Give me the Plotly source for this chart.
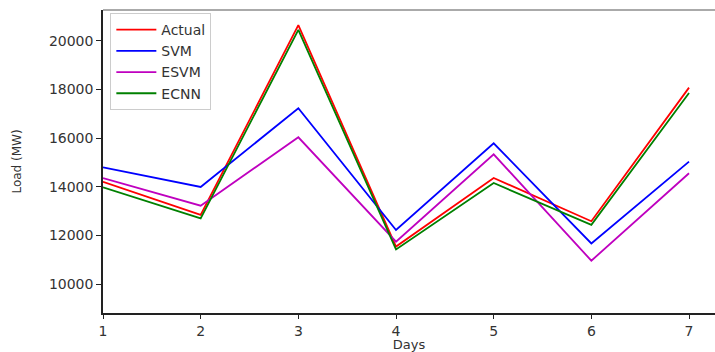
import plotly.graph_objects as go

days = [1, 2, 3, 4, 5, 6, 7]
actual = [14200, 12840, 20640, 11540, 14360, 12580, 18070]
svm = [14790, 13990, 17220, 12220, 15780, 11670, 15030]
esvm = [14350, 13220, 16030, 11740, 15330, 10960, 14550]
ecnn = [13970, 12700, 20440, 11420, 14150, 12430, 17850]
yticks = [10000, 12000, 14000, 16000, 18000, 20000]

series = [("Actual", actual, "#ff0000"), ("SVM", svm, "#0000ff"),
          ("ESVM", esvm, "#bf00bf"), ("ECNN", ecnn, "#008000")]

fig = go.Figure()
for name, vals, col in series:
    fig.add_trace(go.Scatter(x=days, y=vals, mode="lines", name=name,
                             line=dict(color=col, width=1.8)))

font = "DejaVu Sans"
fig.update_layout(
    width=715, height=352,
    margin=dict(l=103, r=0, t=10, b=39),
    plot_bgcolor="white", paper_bgcolor="white",
    font=dict(family=font, size=14, color="#333333"),
    showlegend=True,
    legend=dict(x=0.012, y=0.99, xanchor="left", yanchor="top",
                bgcolor="rgba(255,255,255,0.9)", bordercolor="#cccccc", borderwidth=1,
                font=dict(family=font, size=14, color="#333333"),
                tracegroupgap=0, itemwidth=40),
    xaxis=dict(range=[1, 7.266], tickvals=days, ticktext=[str(d) for d in days],
               showgrid=False, zeroline=False, showline=True, linecolor="#222222", linewidth=1.5,
               ticks="outside", ticklen=4, tickcolor="#222222",
               tickfont=dict(family=font, size=14, color="#333333"),
               title=dict(text="Days", font=dict(family=font, size=13, color="#333333"), standoff=2)),
    yaxis=dict(range=[8811, 21258], tickvals=yticks, ticktext=[str(v) for v in yticks],
               showgrid=False, zeroline=False, showline=True, linecolor="#222222", linewidth=1.5,
               ticks="outside", ticklen=5, tickcolor="#222222",
               tickfont=dict(family=font, size=14, color="#333333"),
               title=dict(text="Load (MW)", font=dict(family=font, size=12, color="#333333"), standoff=25)),
)
fig.add_shape(type="line", xref="paper", yref="paper", x0=0, x1=1, y0=1, y1=1,
              line=dict(color="#aaaaaa", width=2))
fig.write_html("out.html")
